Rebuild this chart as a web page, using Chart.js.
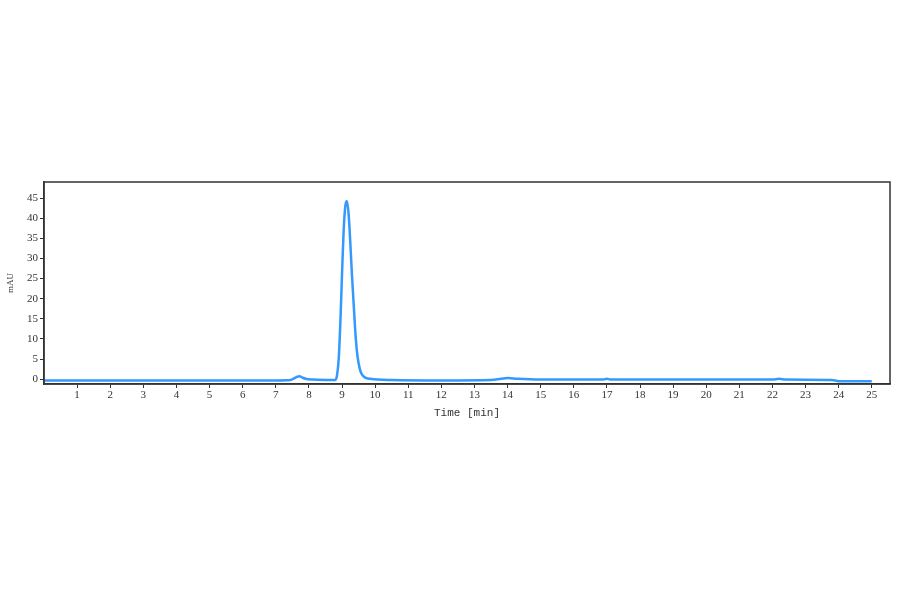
<!DOCTYPE html>
<html>
<head>
<meta charset="utf-8">
<script src="https://cdn.jsdelivr.net/npm/chart.js@4"></script>
<style>
  html, body { margin: 0; padding: 0; background: #fff; }
</style>
</head>
<body>
<canvas id="chrom" width="900" height="594"></canvas>
<script>
// retention time (min) and absorbance (mAU)
const timeMin = [0, 7.0, 7.45, 7.55, 7.65, 7.72, 7.8, 7.9, 8.1, 8.5, 8.8,
  8.85, 8.9, 8.95, 9.0, 9.05, 9.1, 9.15, 9.2, 9.25, 9.3, 9.35, 9.4,
  9.45, 9.5, 9.55, 9.6, 9.7, 9.85, 10.5, 12.0, 13.5, 13.8, 14.0, 14.3, 15.0,
  16.9, 17.0, 17.1, 22.0, 22.2, 22.4, 23.8, 24.0, 25.0];
const signal = [-0.3, -0.3, -0.2, 0.2, 0.6, 0.7, 0.4, 0.1, -0.1, -0.2, -0.2,
  1, 5, 14, 26, 37, 43, 44.3, 41, 34, 26, 19, 12,
  7, 4, 2.2, 1.2, 0.4, 0.1, -0.2, -0.3, -0.2, 0.1, 0.3, 0.1, -0.1,
  -0.1, 0.1, -0.1, -0.1, 0.1, -0.1, -0.2, -0.5, -0.5];
const xTicks = [1, 2, 3, 4, 5, 6, 7, 8, 9, 10, 11, 12, 13, 14, 15, 16, 17,
  18, 19, 20, 21, 22, 23, 24, 25];
const yTicks = [0, 5, 10, 15, 20, 25, 30, 35, 40, 45];

const points = timeMin.map((t, i) => ({x: t, y: signal[i]}));

const frame = {
  id: 'frame',
  afterDraw(chart) {
    const a = chart.chartArea, ctx = chart.ctx;
    ctx.save();
    ctx.strokeStyle = '#333';
    ctx.lineWidth = 1.5;
    ctx.strokeRect(a.left, a.top, a.right - a.left, a.bottom - a.top);
    ctx.restore();
  }
};

const serif = {family: '"Liberation Serif", "DejaVu Serif", serif', size: 11};

new Chart(document.getElementById('chrom'), {
  type: 'line',
  data: {
    datasets: [{
      data: points,
      borderColor: 'rgb(51, 153, 255)',
      borderWidth: 2.5,
      pointRadius: 0,
      cubicInterpolationMode: 'monotone',
      fill: false
    }]
  },
  plugins: [frame],
  options: {
    responsive: false,
    animation: false,
    layout: {padding: {left: 5, top: 182, right: 10, bottom: 174}},
    plugins: {legend: {display: false}, tooltip: {enabled: false}},
    scales: {
      x: {
        type: 'linear',
        min: 0,
        max: 25.55,
        afterFit(s) { s.height = 36; },
        afterBuildTicks(s) { s.ticks = xTicks.map(v => ({value: v})); },
        grid: {drawOnChartArea: false, tickLength: 4, color: '#333'},
        border: {color: '#333', width: 1.5},
        ticks: {
          autoSkip: false,
          maxRotation: 0,
          padding: 1,
          color: '#333',
          font: serif
        },
        title: {
          display: true,
          text: 'Time [min]',
          color: '#333',
          padding: {top: 0, bottom: 0},
          font: {family: '"Liberation Mono", "DejaVu Sans Mono", monospace', size: 11}
        }
      },
      y: {
        min: -1.2,
        max: 49,
        afterFit(s) { s.width = 39; },
        afterBuildTicks(s) { s.ticks = yTicks.map(v => ({value: v})); },
        grid: {drawOnChartArea: false, tickLength: 4, color: '#333'},
        border: {color: '#333', width: 1.5},
        ticks: {padding: 2, color: '#333', font: serif},
        title: {
          display: true,
          text: 'mAU',
          color: '#333',
          padding: {top: 0, bottom: 2},
          font: {family: '"Liberation Serif", "DejaVu Serif", serif', size: 9}
        }
      }
    }
  }
});
</script>
</body>
</html>
